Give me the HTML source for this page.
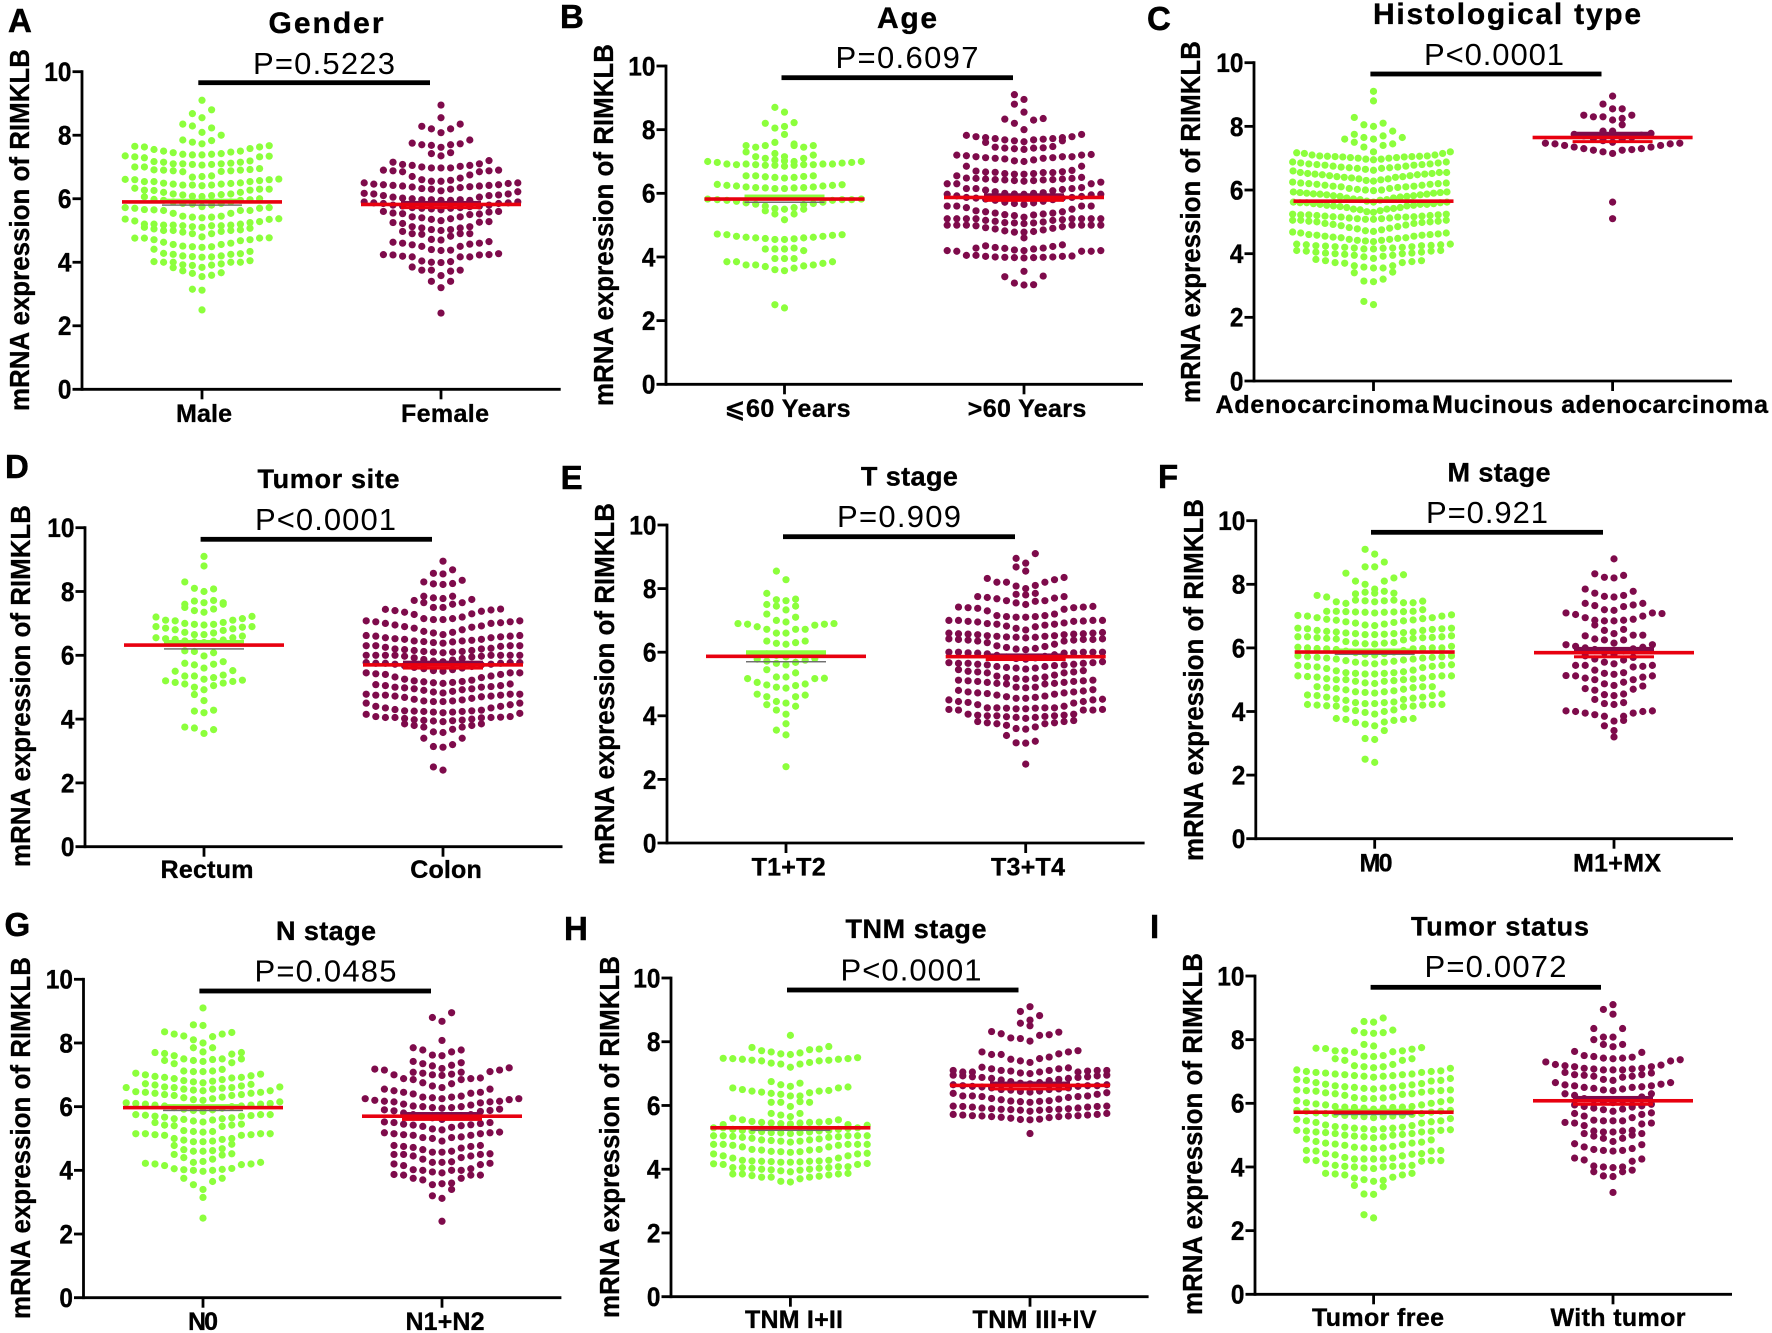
<!DOCTYPE html>
<html lang="en">
<head>
<meta charset="utf-8">
<title>RIMKLB mRNA expression by clinical features</title>
<style>
html,body{margin:0;padding:0;background:#fff;}
svg{display:block;font-family:"Liberation Sans","DejaVu Sans",Arial,sans-serif;}
</style>
</head>
<body>
<svg id="figure" width="1772" height="1333" viewBox="0 0 1772 1333" xmlns="http://www.w3.org/2000/svg"></svg>
<script>
// Each group is a list of swarm rows; each row lists values from the centre column outward.
const yTickValues=[0,2,4,6,8,10];
const yAxisLabel="mRNA expression of RIMKLB";

const genderMale=[[2.5],[3.12,3.15],[3.55,3.65,3.59,3.73,3.67,3.83],[3.84,3.9,3.91,3.92,3.95,4,4,4,4,4.02,4.05],[4.16,4.18,4.17,4.2,4.2,4.25,4.25,4.28,4.27,4.41,4.34],[4.47,4.49,4.49,4.51,4.56,4.56,4.6,4.63,4.68,4.71,4.71,4.76,4.76,4.76,4.77],[4.8,4.9,4.9,4.95,4.97,5,5,5,5.02,5.05,5.07,5.1],[5.1,5.12,5.15,5.15,5.15,5.17,5.17,5.17,5.2,5.2,5.25,5.2,5.28,5.3,5.35,5.36,5.37],[5.4,5.42,5.42,5.45,5.45,5.54,5.54,5.63,5.63,5.65,5.63,5.66,5.7,5.7,5.72,5.72],[5.75,5.83,5.8,5.85,5.85,5.9,5.9,5.95,5.95,5.98,5.97,6.06,6],[6.07,6.08,6.1,6.12,6.13,6.15,6.15,6.2,6.2,6.26,6.27,6.27,6.3,6.33,6.3],[6.41,6.43,6.43,6.43,6.46,6.46,6.48,6.49,6.5,6.54,6.54,6.54,6.57,6.6,6.6,6.61,6.62],[6.7,6.68,6.72,6.85,6.86,6.88,6.88,6.9,6.9,6.91,6.92,7,6.95,7],[7.06,7.08,7.08,7.1,7.1,7.1,7.12,7.15,7.15,7.17,7.19,7.29,7.32,7.32,7.34,7.35],[7.38,7.38,7.4,7.4,7.42,7.45,7.47,7.5,7.5,7.55,7.58,7.63,7.63,7.65,7.67],[7.73,7.78,7.83,7.85,8],[8.09,8.29,8.23,8.35],[8.55,8.68,8.8],[9.1]];
const genderFemale=[[2.4],[3.2,3.4,3.4],[3.58,3.75,3.72,3.75,3.75,3.85],[3.99,4,4.02,4.04,4.17,4.17,4.17,4.19,4.23,4.23,4.24,4.24,4.27],[4.37,4.4,4.38,4.5,4.5,4.55,4.57,4.6,4.6,4.63,4.65],[4.7,4.72,4.82,4.88,4.9,4.9,4.9,4.97],[5,5.03,5.03,5.08,5.08,5.12,5.12,5.22,5.26,5.25,5.28],[5.31,5.35,5.37,5.4,5.43,5.43,5.5,5.53,5.52,5.55,5.58,5.6,5.6],[5.65,5.68,5.7,5.7,5.72,5.72,5.75,5.77,5.77,5.8,5.8,5.85,5.85,5.87,5.87,5.9,5.9],[5.95,5.97,5.95,5.97,5.97,6,5.95,6.02,6.05,6.05,6.1,6.1,6.12,6.15,6.15,6.17,6.22],[6.25,6.3,6.3,6.32,6.35,6.37,6.38,6.4,6.4,6.42,6.42,6.44,6.44,6.46,6.48,6.5,6.5],[6.55,6.55,6.58,6.6,6.65,6.7,6.75,6.85,6.85,6.88,6.88,6.9,6.9],[6.97,6.97,6.97,7,7.02,7.05,7.05,7.08,7.1,7.15,7.2],[7.35,7.42,7.45],[7.62,7.68,7.7,7.7,7.73,7.75,7.85],[8.08,8.2,8.2,8.28,8.35],[8.55],[8.95]];

const ageYoung=[[2.4,2.5],[3.57,3.6,3.65,3.7,3.72,3.75,3.75,3.75,3.8,3.85,3.85,3.85],[3.95,3.95,3.95],[4.25,4.25,4.28,4.25,4.2],[4.55,4.55,4.57,4.58,4.6,4.6,4.62,4.62,4.65,4.65,4.68,4.7,4.7,4.72],[5.17,5.35,5.35,5.45,5.5],[5.5,5.52,5.55,5.6,5.65,5.66,5.68,5.7,5.72,5.75,5.78,5.78,5.8,5.8,5.8,5.82,5.82],[6.15,6.15,6.17,6.17,6.18,6.18,6.2,6.2,6.23,6.23,6.25,6.25,6.27,6.28],[6.48,6.5,6.5,6.52,6.53,6.55,6.55,6.55],[6.85,6.88,6.88,6.88,6.9,6.9,6.9,6.92,6.92,6.9,6.92,6.92,6.95,6.97,6.97,7,7],[7.02,7.05,7,7.1,7.1,7.15,7.2,7.3],[7.15,7.25,7.5,7.5,7.45,7.45,7.5,7.5],[7.85,7.6,7.55],[8.1,8.05,8.22,8.2],[8.55,8.7]];
const ageOld=[[3.12,3.18,3.13,3.38,3.4],[3.55],[3.97,3.98,3.98,3.99,3.99,4,4,4.02,4.02,4.05,4.03,4.05,4.18,4.18,4.18,4.2,4.2],[4.2,4.22,4.25,4.27,4.28,4.3,4.33,4.35,4.38,4.28],[4.6],[4.78,4.78,4.8,4.82,4.85,4.88,4.9,4.92,4.95,4.98,5,5,5,5,5,5,5],[5.05,5.07,5.07,5.08,5.1,5.12,5.15,5.15,5.17,5.2,5.2,5.2,5.2,5.2,5.2,5.2,5.2],[5.25,5.3,5.32,5.33,5.35,5.38,5.38,5.42,5.42,5.45,5.5,5.55,5.6,5.6,5.6,5.6],[5.65,5.68,5.7,5.72,5.75,5.78,5.8,5.82,5.85,5.85,5.87,5.87,5.9,5.92,5.95,5.97,5.97],[5.97,5.98,6,6,6.02,6.05,6.08,6.1,6.12,6.15,6.15,6.15,6.18,6.3,6.3,6.3,6.35],[6.38,6.4,6.4,6.42,6.42,6.43,6.43,6.45,6.45,6.47,6.47,6.48,6.5,6.55],[6.6,6.6,6.62,6.62,6.65,6.66,6.65,6.67,6.68,6.7,6.72,6.85,6.85],[7,7.02,7.05,7.08,7.1,7.1,7.12,7.12,7.15,7.15,7.15,7.18,7.2,7.2,7.22],[7.38,7.4,7.42,7.42,7.43,7.45,7.47,7.6,7.65],[7.62,7.65,7.68,7.68,7.7,7.72,7.72,7.75,7.75,7.78,7.78,7.82,7.85],[8,8.2,8.3,8.33,8.35],[8.55,8.8],[8.95,9.1]];

const histAdeno=[[2.4,2.5],[3.12,3.14,3.2,3.4,3.42],[3.55,3.58,3.55,3.62,3.62,3.7,3.72,3.72,3.75,3.78,3.78,3.82],[3.85,3.9,3.92,3.95,3.95,3.98,4,4,4.02,4.02,4.05,4.05,4.08,4.08,4.1,4.1],[4.15,4.15,4.17,4.18,4.18,4.2,4.2,4.22,4.22,4.24,4.25,4.25,4.26,4.28,4.28,4.3,4.3],[4.38,4.4,4.42,4.42,4.45,4.45,4.48,4.5,4.5,4.52,4.55,4.55,4.58,4.58,4.6,4.6,4.62,4.65,4.65,4.68],[4.7,4.72,4.75,4.78,4.8,4.82,4.85,4.88,4.9,4.92,4.95,4.95,4.98,5,5,5.02,5.02,5.05,5.05,5.05],[5.08,5.08,5.1,5.1,5.12,5.12,5.15,5.15,5.15,5.16,5.16,5.18,5.18,5.2,5.2,5.22,5.22,5.22,5.24,5.24],[5.3,5.32,5.35,5.38,5.4,5.4,5.42,5.45,5.45,5.48,5.5,5.5,5.52,5.52,5.55,5.55,5.55,5.57,5.57,5.6,5.6,5.6,5.62,5.62],[5.62,5.65,5.68,5.7,5.7,5.72,5.75,5.75,5.78,5.8,5.8,5.82,5.82,5.85,5.85,5.87,5.87,5.88,5.9,5.9,5.92,5.92,5.94,5.94],[5.98,6,6,6.02,6.05,6.05,6.08,6.1,6.1,6.12,6.12,6.15,6.15,6.18,6.18,6.2,6.2,6.22,6.22,6.25],[6.28,6.3,6.32,6.35,6.35,6.38,6.4,6.4,6.42,6.42,6.45,6.45,6.48,6.48,6.5,6.5,6.52,6.52,6.55,6.55,6.55,6.6],[6.62,6.65,6.68,6.68,6.7,6.7,6.72,6.72,6.75,6.75,6.78,6.78,6.8,6.8,6.82,6.82,6.85,6.85,6.88,6.88],[6.95,6.97,6.97,7,7,7.02,7.02,7.04,7.04,7.05,7.05,7.06,7.06,7.07,7.07,7.1,7.1,7.15,7.15,7.17,7.2],[7.2,7.35,7.4,7.5,7.45,7.6,7.65],[7.6,7.65,7.7,7.75,7.85],[8,8.05,8.1,8.28],[8.8],[9.1]];
const histMucinous=[[5.1],[5.62],[7.15,7.2,7.25,7.25,7.27,7.3,7.3,7.35,7.35,7.4,7.4,7.45,7.45,7.47,7.47],[7.5,7.55,7.6,7.62,7.65,7.7,7.72,7.75,7.78],[7.85,7.85,8.05],[8.2,8.3,8.25,8.3,8.35,8.35],[8.55,8.7,8.55],[8.95]];

const siteRectum=[[3.55,3.72,3.67,3.75],[4.2,4.25,4.28],[4.58,4.77],[4.92,5,5.05,5.1,5.13,5.15,5.18,5.2,5.22],[5.25,5.35,5.3,5.35,5.38,5.5,5.52],[5.6,5.7,5.72,5.75,5.8],[5.98,6.12,6.08,6.14],[6.4,6.42,6.44,6.45,6.48,6.5,6.55,6.52,6.6,6.55],[6.65,6.65,6.7,6.72,6.78,6.8,6.83,6.85,6.88,6.9,6.9],[6.95,6.97,6.97,7,7.03,7.08,7.1,7.1,7.15,7.2,7.22],[7.35,7.4,7.45,7.5,7.6],[7.65,7.7,7.72,7.6,7.65],[8,8.1,8.08,8.3],[8.8],[9.1]];
const siteColon=[[2.4,2.5],[3.12,3.14,3.2,3.4,3.4],[3.58,3.6,3.68,3.75,3.75,3.8,3.8,3.85,3.85],[3.92,3.94,3.95,3.96,3.97,3.98,4,4.02,4.04,4.05,4.05,4.05,4.06,4.08,4.08,4.15,4.18],[4.2,4.22,4.22,4.24,4.24,4.25,4.26,4.26,4.28,4.3,4.35,4.35,4.4,4.4,4.45,4.5,4.5],[4.55,4.55,4.57,4.57,4.6,4.62,4.65,4.68,4.7,4.72,4.72,4.75,4.75,4.75,4.78,4.78,4.78],[4.82,4.85,4.87,4.9,4.92,4.95,4.95,4.98,5,5,5.02,5.05,5.05,5.08,5.1],[5.12,5.14,5.15,5.17,5.18,5.2,5.22,5.25,5.3,5.32,5.35,5.4,5.4,5.42,5.45,5.45,5.45],[5.5,5.52,5.55,5.58,5.6,5.62,5.65,5.67,5.7,5.72,5.72,5.75,5.75,5.75,5.77,5.77,5.77],[5.8,5.82,5.85,5.87,5.9,5.92,5.95,5.97,5.97,6,6,6,6,6,6,6,6],[6.08,6.1,6.1,6.12,6.12,6.15,6.15,6.18,6.2,6.2,6.22,6.25,6.28,6.3,6.3,6.3,6.3],[6.38,6.4,6.42,6.43,6.45,6.45,6.47,6.5,6.5,6.52,6.55,6.55,6.58,6.6,6.6,6.62,6.62],[6.65,6.7,6.72,6.75,6.8,6.85,6.88,6.9,6.92,6.95,7,7,7.02,7.05,7.05,7.08,7.08],[7.12,7.12,7.15,7.15,7.2,7.28,7.3,7.35,7.38,7.4,7.42,7.44,7.45],[7.5,7.5,7.6,7.65,7.65,7.72,7.75],[7.78,7.8,7.85,7.85],[8.22,8.24,8.25,8.3,8.35],[8.55,8.57,8.68],[8.95]];

const tStageEarly=[[2.4],[3.4,3.55],[3.75],[4.05,4.18,4.3,4.35],[4.4,4.45,4.6,4.6,4.65,4.68],[4.87,4.9,4.95,4.97,5,5.05,5.17,5.17,5.18],[5.22,5.22,5.35,5.45],[5.6,5.65,5.68,5.72,5.75,5.78,5.8],[5.85,5.9,5.92,5.95],[6.25,6.28,6.3,6.35,6.35],[6.6,6.6,6.72,6.72,6.72,6.8,6.85,6.88,6.88,6.9,6.9],[6.95,7,7.1,7.2],[7.33,7.45,7.45,7.5],[7.62,7.65,7.67,7.85],[8.28,8.55]];
const tStageLate=[[2.48],[3.14,3.15,3.2,3.38],[3.58,3.6,3.65,3.7,3.75,3.75,3.78,3.78,3.82,3.82,3.85],[3.92,3.95,3.95,3.97,3.98,4,4,4,4.02,4.02,4.05,4.05,4.18,4.18,4.18,4.2,4.2],[4.22,4.22,4.24,4.24,4.25,4.25,4.25,4.25,4.3,4.35,4.4,4.42,4.45,4.45,4.5,4.5,4.52],[4.55,4.55,4.58,4.6,4.62,4.65,4.68,4.7,4.72,4.72,4.75,4.75,4.78,4.8,4.82],[4.88,4.9,4.9,5,5,5.02,5.02,5.05,5.05,5.08,5.08,5.1,5.1,5.12,5.12],[5.15,5.17,5.18,5.2,5.22,5.25,5.28,5.35,5.35,5.38,5.38,5.4,5.42,5.45],[5.47,5.5,5.5,5.52,5.55,5.55,5.58,5.6,5.6,5.62,5.62,5.65,5.65,5.65,5.67,5.67,5.7],[5.78,5.8,5.82,5.85,5.87,5.9,5.92,5.95,5.97,5.97,5.98,5.98,6,6,6,6,6],[6.08,6.1,6.12,6.15,6.18,6.2,6.25,6.3,6.35,6.35,6.38,6.38,6.4,6.4,6.4,6.42,6.42],[6.45,6.47,6.47,6.48,6.5,6.5,6.52,6.52,6.55,6.55,6.57,6.57,6.58,6.58,6.6,6.6,6.62],[6.7,6.75,6.8,6.82,6.85,6.88,6.88,6.9,6.92,6.95,6.97,6.97,6.98,7,7,7,7],[7.1,7.1,7.12,7.12,7.15,7.15,7.2,7.3,7.35,7.38,7.4,7.4,7.42,7.42,7.44],[7.5,7.55,7.6,7.62,7.62,7.68,7.7,7.72,7.75,7.75],[7.8,7.82,7.85],[8,8.08,8.1,8.2,8.2,8.2,8.28,8.32,8.35],[8.55,8.68],[8.8,8.95,9.1]];

const mStageNone=[[2.4,2.5],[3.12,3.15,3.4],[3.55,3.6,3.67,3.65,3.72,3.75,3.75,3.78,3.78],[3.92,3.97,4,4.03,4.05,4.08,4.15,4.17,4.17,4.18,4.2,4.2,4.22,4.22,4.22],[4.25,4.25,4.28,4.28,4.3,4.35,4.38,4.4,4.42,4.45,4.45,4.5,4.5,4.52,4.55],[4.58,4.6,4.62,4.62,4.65,4.68,4.7,4.72,4.75,4.75,4.78,4.78,4.78],[4.88,4.9,4.95,4.95,4.97,5,5,5,5.02,5.03,5.05,5.08,5.1,5.1,5.12,5.12,5.12],[5.18,5.18,5.2,5.2,5.22,5.22,5.25,5.28,5.3,5.35,5.38,5.4,5.42,5.42,5.45,5.45,5.47],[5.5,5.52,5.55,5.55,5.58,5.6,5.62,5.65,5.65,5.68,5.68,5.7,5.7,5.72,5.72,5.75,5.75],[5.78,5.8,5.82,5.85,5.87,5.9,5.92,5.95,5.97,5.97,5.98,5.98,6,6,6,6.02,6.05],[6.12,6.13,6.15,6.15,6.17,6.2,6.25,6.28,6.3,6.3,6.32,6.32,6.33,6.35,6.35,6.35,6.38],[6.42,6.42,6.43,6.45,6.45,6.47,6.48,6.5,6.5,6.52,6.55,6.55,6.58,6.6,6.6,6.62,6.62],[6.7,6.72,6.75,6.78,6.8,6.82,6.85,6.87,6.88,6.9,6.92,6.95,6.95,7,7,7.02,7.04],[7.1,7.12,7.12,7.13,7.13,7.14,7.14,7.15,7.15,7.15,7.2],[7.45,7.48,7.48,7.5,7.5,7.4,7.42,7.45,7.42,7.6,7.47,7.65],[7.72,7.75,7.78,7.7,7.72],[7.85,8.0,8.1,8.1,8.2,8.35,8.3],[8.55,8.55,8.7],[8.95,9.1]];
const mStageAdvanced=[[3.2],[3.4,3.55,3.72],[3.7,3.85,3.85,3.9,3.95,3.95,4,4,4.02,4.02],[4.22,4.25,4.28,4.38],[4.5,4.53,4.55,4.67,4.7,4.72,4.8],[4.82,4.87,4.92,5,5,5.05,5.08,5.12,5.12,5.13],[5.17,5.2,5.22,5.3,5.4,5.45,5.42,5.45,5.45],[5.5,5.55,5.62,5.65,5.7,5.75],[5.8,5.85,5.9,5.95,5.97,6,6.02,6.05,6.1,6.1],[6.15,6.25,6.25,6.28,6.4,6.38,6.4],[6.45,6.55,6.58,6.72],[6.85,6.85,6.87,6.87,6.9,6.95,7,7.05,7.1,7.1,7.08],[7.18,7.2,7.3,7.33,7.35,7.4,7.4],[7.6,7.62,7.65,7.72,7.78,7.85],[8.2,8.22,8.28,8.33],[8.8]];

const nStageNegative=[[2.5],[3.15],[3.4,3.55,3.65,3.75,3.75],[3.97,4,4,4.02,4.03,4.05,4.06,4.15,4.18,4.2,4.2,4.22,4.25],[4.28,4.25,4.35,4.4,4.48,4.5,4.52],[4.6,4.6,4.62,4.65,4.68,4.78,4.82],[4.9,4.9,4.92,4.95,4.97,5,5,5.1,5.1,5.12,5.12,5.15,5.15,5.15,5.15],[5.2,5.22,5.22,5.25,5.38,5.4,5.42,5.42,5.45,5.5],[5.52,5.55,5.58,5.6,5.62,5.62,5.65,5.67,5.7,5.7,5.72,5.73,5.75,5.75,5.75],[5.85,5.88,5.9,5.92,5.95,5.97,6,6.02,6.02,6.05,6.05,6.08,6.08,6.1,6.1,6.12,6.15],[6.2,6.22,6.25,6.28,6.3,6.35,6.35,6.38,6.38,6.42,6.42,6.45,6.45,6.47,6.5,6.6,6.62],[6.5,6.52,6.55,6.55,6.58,6.6,6.6,6.62,6.65,6.68,6.7,6.72],[6.75,6.78,6.8,6.82,6.85,6.88,6.9,6.92,6.92,6.95,6.97,7,7.02,7.05],[7.1,7.1,7.12,7.12,7.17,7.35,7.38,7.45,7.5],[7.42,7.45,7.48,7.5,7.5,7.6,7.65,7.67,7.7,7.7],[7.72,7.85,7.85],[8,8.1,8.2,8.22,8.28,8.28,8.33,8.35],[8.55,8.57],[9.1]];
const nStageXPositive=[[2.4],[3.12,3.2,3.4],[3.58,3.55,3.6,3.7,3.75,3.75,3.85,3.85,3.85,3.87],[3.92,3.95,4,4,4,4.02,4.05,4.15,4.18,4.2,4.22],[4.25,4.25,4.27,4.35,4.4,4.45,4.45,4.5,4.5,4.5,4.52],[4.57,4.57,4.6,4.65,4.7,4.72,4.75,4.75,4.78,4.78],[4.92,5,5.03,5.03,5.05,5.1,5.1,5.12,5.15,5.15,5.18,5.18,5.2],[5.27,5.3,5.35,5.38,5.4,5.42,5.43,5.45,5.47,5.5,5.5,5.52],[5.6,5.65,5.7,5.7,5.72,5.75,5.75,5.8,5.85,5.87,5.88,5.9,5.92],[5.95,5.97,5.97,6,6,6.02,6.05,6.08,6.12,6.15,6.15,6.17,6.17,6.2,6.22,6.25,6.25],[6.25,6.28,6.3,6.3,6.33,6.4,6.42,6.45,6.45,6.5,6.55,6.55],[6.6,6.65,6.72,6.75,6.85,6.85,6.88,6.88,6.9,7,7.1,7.15,7.15,7.18,7.22],[6.98,7,7.02,7.05,7.08,7.08],[7.2,7.28,7.3,7.35,7.38,7.42],[7.6,7.62,7.72,7.78,7.78,7.85],[8.08],[8.68,8.8,8.95]];

const tnmEarly=[[3.6,3.62,3.7,3.75,3.75,3.75,3.78,3.8,3.82,3.85,3.85,3.85,3.87],[3.92,3.95,3.97,3.98,4,4,4.03,4.03,4.05,4.05,4.08,4.05,4.08,4.15,4.15,4.17,4.18],[4.22,4.22,4.23,4.24,4.25,4.25,4.26,4.26,4.28,4.28,4.35,4.35,4.42,4.42,4.48,4.48,4.5],[4.53,4.55,4.55,4.56,4.6,4.6,4.62,4.62,4.7,4.7,4.75,4.75,4.78,4.78,4.78,4.78,4.78],[4.85,4.88,4.88,4.9,4.92,4.92,4.95,4.97,5,5,5.02,5.03,5.05,5.05,5.05,5.05,5.05],[5.12,5.14,5.15,5.15,5.17,5.18,5.2,5.2,5.22,5.22,5.25,5.25,5.28,5.3,5.3,5.3,5.38],[5.42,5.43,5.45,5.45,5.47,5.47,5.48,5.5,5.5,5.55,5.55,5.6,5.4,5.4],[5.65,5.7,5.75,5.75],[5.97,6.1,6.12,6.1,6.1],[6.3,6.35,6.3,6.38,6.4,6.42,6.45,6.45,6.47,6.5,6.55,6.55,6.58],[6.6,6.65,6.7,6.75],[7.2,7.3,7.3,7.33,7.35,7.4,7.4,7.42,7.42,7.45,7.45,7.47,7.47,7.48,7.5],[7.6,7.62,7.65,7.68,7.75,7.72,7.77,7.82,7.85],[8.2]];
const tnmLate=[[5.12],[5.55,5.56,5.57,5.6,5.62,5.63,5.65,5.65,5.67,5.67,5.68,5.68,5.7,5.7,5.72,5.72,5.75],[5.82,5.85,5.85,5.87,5.87,5.88,5.88,5.9,5.9,5.92,5.92,5.95,5.95,5.97,5.97,5.98,5.98],[6.1,6.12,6.13,6.14,6.15,6.18,6.2,6.22,6.25,6.28,6.28,6.3,6.3,6.3,6.35,6.38,6.4],[6.42,6.44,6.45,6.48,6.5,6.5,6.52,6.55,6.55,6.58,6.6,6.6,6.62,6.62,6.62,6.65,6.65],[6.68,6.7,6.72,6.75,6.78,6.8,6.82,6.85,6.85,6.88,6.88,6.9,6.9,6.93,6.93,6.95,6.95],[7,7.02,7.05,7.08,7.1,7.1,7.15,7.15,7.18,7.2,7.05,7.05,7.08,7.05,7.1,7.1,7.1],[7.35,7.4,7.47,7.45,7.52,7.6,7.62,7.6,7.68,7.68,7.72],[8.02,8.1,8.2,8.12,8.22,8.25,8.3,8.32],[8.5,8.58],[8.68,8.95,8.82],[9.1]];

const statusFree=[[2.4,2.5],[3.14,3.15,3.38,3.42],[3.55,3.6,3.58,3.65,3.68,3.75,3.75,3.78,3.8,3.8],[3.95,3.97,4,4,4.02,4.02,4.03,4.05,4.05,4.1,4.18,4.2,4.2,4.22,4.2],[4.25,4.25,4.25,4.25,4.28,4.3,4.35,4.38,4.4,4.42,4.42,4.5,4.5,4.52,4.52],[4.58,4.6,4.6,4.62,4.65,4.68,4.7,4.72,4.75,4.75,4.78,4.8,4.85,4.88],[4.92,4.95,4.95,4.97,5,5,5.02,5.05,5.05,5.08,5.1,5.1,5.12,5.13,5.15,5.15,5.17],[5.18,5.2,5.2,5.22,5.22,5.25,5.25,5.27,5.3,5.32,5.38,5.4,5.42,5.45,5.45,5.5,5.52],[5.55,5.58,5.58,5.6,5.6,5.62,5.62,5.65,5.65,5.68,5.68,5.7,5.72,5.75,5.75,5.78,5.78],[5.82,5.85,5.85,5.87,5.87,5.88,5.88,5.9,5.9,5.95,5.95,5.98,6,6.02,6.05,6.08,6.1],[6.15,6.15,6.17,6.18,6.2,6.25,6.28,6.3,6.3,6.33,6.35,6.38,6.38,6.4,6.4,6.42,6.42],[6.45,6.47,6.48,6.5,6.5,6.52,6.55,6.55,6.58,6.6,6.62,6.65,6.7,6.72,6.72,6.75,6.78],[6.82,6.85,6.85,6.87,6.87,6.9,6.9,6.92,6.92,6.95,6.97,6.97,7,7,7.02,7.05,7.1],[7.12,7.15,7.15,7.18,7.22,7.35,7.35,7.4,7.4],[7.47,7.48,7.5,7.6,7.62,7.65,7.65,7.65,7.7,7.72,7.75,7.73],[7.8,7.85],[8.2,8.22,8.22,8.28,8.3],[8.55,8.57,8.68]];
const statusTumor=[[3.2],[3.7,3.72,3.85,3.85,3.9],[3.98,4,4,4.03,4.18,4.22,4.25,4.28],[4.5,4.52,4.52,4.55,4.58,4.63,4.7,4.73],[4.8,4.9,4.9,4.97,5,5.05,5.05],[5.1,5.1,5.13,5.13,5.15,5.3,5.35,5.38,5.38,5.4],[5.45,5.45,5.45,5.47,5.55,5.6,5.65,5.68,5.7],[5.75,5.8,5.82,5.85,5.88,5.9,5.92,5.95,5.97],[6.02,6.05,6.08,6.1,6.1,6.15,6.2,6.25,6.3,6.3],[6.4,6.42,6.45,6.47,6.5,6.5,6.52,6.55,6.55,6.58,6.6,6.65,6.65],[6.72,6.75,6.82,6.85,6.85,6.88,6.9,6.9,6.95,6.97],[7.05,7.05,7.05,7.08,7.08,7.1,7.1,7.15,7.15,7.18,7.2,7.22,7.33,7.3,7.37],[7.4,7.42,7.42,7.47,7.45,7.5,7.6,7.63],[7.78,7.85,7.85,8],[8.08,8.08,8.35,8.35],[8.8,8.95],[9.1]];

const groupMeans={gender:[5.9,5.82],age:[5.82,5.87],hist:[5.65,7.65],site:[6.32,5.7],tStage:[5.87,5.86],mStage:[5.87,5.85],nStage:[5.97,5.7],tnm:[5.3,6.63],status:[5.72,6.08]};
const groupSemUpper={gender:[5.97,5.9],age:[5.93,5.97],hist:[5.68,7.8],site:[6.45,5.8],tStage:[6.03,5.93],mStage:[5.95,6],nStage:[6.05,5.8],tnm:[5.33,6.72],status:[5.8,6.2]};
const groupSemLower={gender:[5.8,5.72],age:[5.72,5.78],hist:[5.62,7.52],site:[6.2,5.6],tStage:[5.7,5.77],mStage:[5.8,5.72],nStage:[5.88,5.6],tnm:[5.22,6.52],status:[5.65,5.97]};

const panels=[
{key:'gender',letter:'A',lx:8,ly:32,title:'Gender',tw:115,tcx:326,tby:33,p:'P=0.5223',pw:142,pcx:324,pby:74,ax:82,y10:71.7,y0:389.3,xEnd:560.7,t:[202,441],bar:[198.3,430,82.7],names:['Male','Female'],nw:[56,88],ncx:[204,445],nby:422,ylx:29,ylc:230,groups:[genderMale,genderFemale]},
{key:'age',letter:'B',lx:560,ly:28,title:'Age',tw:60,tcx:907,tby:28,p:'P=0.6097',pw:143,pcx:907,pby:68,ax:666,y10:66,y0:384.3,xEnd:1143,t:[784.5,1024],bar:[781.5,1013,77.7],names:['\u2A7D60 Years','>60 Years'],nw:[126,118.5],ncx:[787.5,1027],nby:417,ylx:613,ylc:225,groups:[ageYoung,ageOld]},
{key:'hist',letter:'C',lx:1147,ly:30,title:'Histological type',tw:268,tcx:1507,tby:24,p:'P<0.0001',pw:140,pcx:1494,pby:65,ax:1254,y10:62.7,y0:381,xEnd:1732,t:[1373.5,1612.6],bar:[1370.4,1601.5,74],names:['Adenocarcinoma','Mucinous adenocarcinoma'],nw:[213,336],ncx:[1322,1600],nby:413,ylx:1200,ylc:222,groups:[histAdeno,histMucinous]},
{key:'site',letter:'D',lx:5,ly:478,title:'Tumor site',tw:142,tcx:328.5,tby:488,p:'P<0.0001',pw:141,pcx:325.5,pby:530,ax:85,y10:527.7,y0:846.7,xEnd:562.5,t:[204,443],bar:[200.6,432,539.3],names:['Rectum','Colon'],nw:[93,71.5],ncx:[207,446],nby:878,ylx:30,ylc:686,groups:[siteRectum,siteColon]},
{key:'tStage',letter:'E',lx:560.6,ly:489,title:'T stage',tw:97,tcx:909.4,tby:485.7,p:'P=0.909',pw:124,pcx:899,pby:527,ax:667,y10:525,y0:843,xEnd:1144.6,t:[786,1025.7],bar:[783,1015,536.7],names:['T1+T2','T3+T4'],nw:[74,74],ncx:[788.6,1028],nby:875.7,ylx:614,ylc:684,groups:[tStageEarly,tStageLate]},
{key:'mStage',letter:'F',lx:1158,ly:488,title:'M stage',tw:103,tcx:1499,tby:481.7,p:'P=0.921',pw:122,pcx:1487,pby:523,ax:1255.8,y10:520.7,y0:838.7,xEnd:1733,t:[1374.7,1614],bar:[1371,1603,532.3],names:['M0','M1+MX'],nw:[33,88],ncx:[1376,1617],nby:871.7,ylx:1203,ylc:680,groups:[mStageNone,mStageAdvanced]},
{key:'nStage',letter:'G',lx:4.5,ly:936,title:'N stage',tw:100,tcx:326,tby:940,p:'P=0.0485',pw:142,pcx:325.5,pby:981.7,ax:83.5,y10:979.3,y0:1297.7,xEnd:561.4,t:[203,442],bar:[199.4,431,991],names:['N0','N1+N2'],nw:[30,79],ncx:[203,445],nby:1330,ylx:30,ylc:1138,groups:[nStageNegative,nStageXPositive]},
{key:'tnm',letter:'H',lx:564,ly:940,title:'TNM stage',tw:141,tcx:916,tby:938,p:'P<0.0001',pw:141,pcx:911,pby:980.7,ax:671,y10:978,y0:1296.7,xEnd:1148.6,t:[790.4,1030],bar:[787,1018.5,990],names:['TNM I+II','TNM III+IV'],nw:[98,124],ncx:[794,1034.5],nby:1328,ylx:619,ylc:1137,groups:[tnmEarly,tnmLate]},
{key:'status',letter:'I',lx:1150,ly:938,title:'Tumor status',tw:178,tcx:1500,tby:935.7,p:'P=0.0072',pw:142,pcx:1495.5,pby:977,ax:1255,y10:976,y0:1294.3,xEnd:1732,t:[1373.6,1613],bar:[1370.6,1601,987.3],names:['Tumor free','With tumor'],nw:[132,135],ncx:[1378,1618],nby:1326,ylx:1202,ylc:1134,groups:[statusFree,statusTumor]}
];

const NS='http://www.w3.org/2000/svg';
const GROUP_COLORS=['#8CFF3C','#7E0B4B'];
const LOWER_CAP_COLORS=['#6a6a6a','#e8000f'];
const DOT_STEP=9.6, MAX_COLUMNS=8, DOT_R=3.6, MEAN_HALF=80, CAP_HALF=40;
const svg=document.getElementById('figure');

function node(parent,tag,attrs){
  const el=document.createElementNS(NS,tag);
  for(const k in attrs){el.setAttribute(k,attrs[k]);}
  parent.appendChild(el);
  return el;
}
function yScale(p,v){return p.y0-v*(p.y0-p.y10)/10;}
function columnOffset(i,n){
  const step=Math.min(DOT_STEP,MAX_COLUMNS*2*DOT_STEP/Math.max(n-1,1));
  const k=Math.ceil(i/2);
  return (i%2?-k:k)*step;
}
function label(parent,str,attrs){
  const t=node(parent,'text',attrs);
  t.textContent=str;
  return t;
}

panels.forEach(function(p){
  const g=node(svg,'g',{});
  
  

  const letter=label(g,p.letter,{x:p.lx,y:p.ly,'font-size':33,'font-weight':'bold',fill:'#000',stroke:'#000','stroke-width':0.5});
  
  

  const title=label(g,p.title,{x:p.tcx,y:p.tby,'text-anchor':'middle','font-size':p.tby<40?30:27,'font-weight':'bold',fill:'#000',stroke:'#000','stroke-width':0.35,textLength:p.tw,lengthAdjust:'spacing'});
  
  

  const pv=label(g,p.p,{x:p.pcx,y:p.pby,'text-anchor':'middle','font-size':31,fill:'#000',textLength:p.pw,lengthAdjust:'spacing'});
  
  

  const sig=node(g,'rect',{x:p.bar[0],y:p.bar[2]-2.4,width:p.bar[1]-p.bar[0],height:4.8,fill:'#000'});
  
  

  const yTitle=label(g,yAxisLabel,{transform:'translate('+p.ylx+','+p.ylc+') rotate(-90)','text-anchor':'middle','font-size':28,'font-weight':'bold',fill:'#000',stroke:'#000','stroke-width':0.3,textLength:362,lengthAdjust:'spacingAndGlyphs'});
  
  

  p.groups.forEach(function(rows,gi){
    const cx=p.t[gi];
    const series=node(g,'g',{fill:GROUP_COLORS[gi]});
    
    
    rows.forEach(function(row){
      row.forEach(function(v,i){
        const dot=node(series,'circle',{cx:cx+columnOffset(i,row.length),cy:yScale(p,v),r:DOT_R});
        
        
      });
    });
    const upper=groupSemUpper[p.key][gi], lower=groupSemLower[p.key][gi], mean=groupMeans[p.key][gi];
    const capTop=node(g,'rect',{x:cx-CAP_HALF,y:yScale(p,upper)-1,width:CAP_HALF*2,height:Math.max(yScale(p,mean)-yScale(p,upper)+1,2),fill:GROUP_COLORS[gi]});
    
    
    const capLow=node(g,'rect',{x:cx-CAP_HALF,y:yScale(p,lower)-(gi?1.5:0.7),width:CAP_HALF*2,height:gi?3:1.4,fill:LOWER_CAP_COLORS[gi]});
    
    
    const meanLine=node(g,'rect',{x:cx-MEAN_HALF,y:yScale(p,mean)-1.8,width:MEAN_HALF*2,height:3.6,fill:'#e8000f'});
    
    
  });

  const yAxis=node(g,'line',{x1:p.ax,x2:p.ax,y1:p.y10-1.4,y2:p.y0+1.4,stroke:'#000','stroke-width':2.8});
  
  
  const xAxis=node(g,'line',{x1:p.ax-9.5,x2:p.xEnd,y1:p.y0,y2:p.y0,stroke:'#000','stroke-width':2.8});
  
  

  yTickValues.forEach(function(v){
    const y=yScale(p,v);
    if(v>0){
      const tick=node(g,'line',{x1:p.ax-9.5,x2:p.ax,y1:y,y2:y,stroke:'#000','stroke-width':2.8});
      
      
    }
    const str=String(v);
    const tl=label(g,str,{x:p.ax-10.5,y:y+9.4,'text-anchor':'end','font-size':27,'font-weight':'bold',fill:'#000',stroke:'#000','stroke-width':0.35,textLength:str.length*13.6,lengthAdjust:'spacingAndGlyphs'});
    
    
  });

  p.names.forEach(function(name,gi){
    const tick=node(g,'line',{x1:p.t[gi],x2:p.t[gi],y1:p.y0,y2:p.y0+10,stroke:'#000','stroke-width':2.8});
    
    
    const xl=label(g,name,{x:p.ncx[gi],y:p.nby,'text-anchor':'middle','font-size':25,'font-weight':'bold',fill:'#000',stroke:'#000','stroke-width':0.35,textLength:p.nw[gi],lengthAdjust:'spacing'});
    
    
  });
});
</script>
</body>
</html>
